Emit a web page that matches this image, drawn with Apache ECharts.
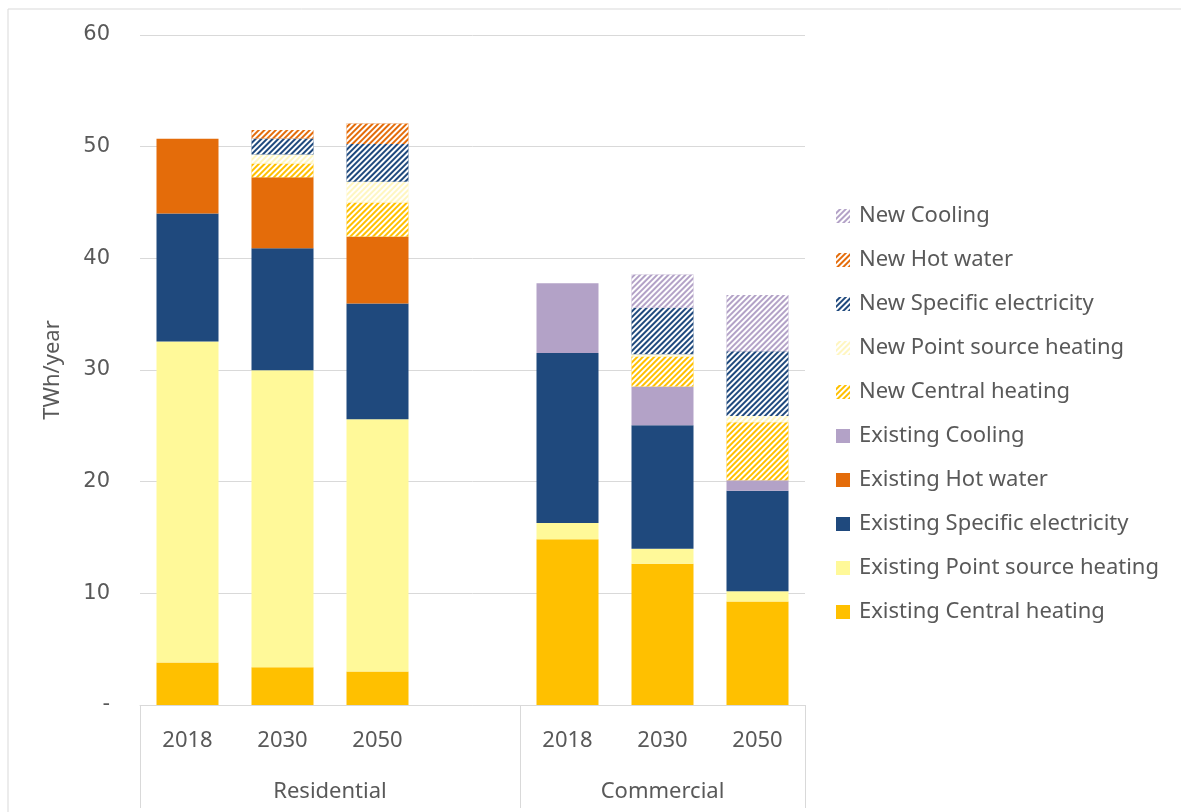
<!DOCTYPE html>
<html>
<head>
<meta charset="utf-8">
<script src="https://cdn.jsdelivr.net/npm/echarts@6/dist/echarts.min.js"></script>
<style>
  html, body { margin: 0; padding: 0; background: #fff; }
  #chart { width: 1181px; height: 812px; }
</style>
</head>
<body>
<div id="chart"></div>
<script>
// ========= data =========
const yearLabels = ['2018', '2030', '2050', '', '2018', '2030', '2050'];
const groupLabels = ['Residential', 'Commercial'];

const existingCentral = [3.81, 3.39, 3.0, '-', 14.85, 12.65, 9.26];
const existingPoint   = [28.75, 26.58, 22.6, '-', 1.45, 1.35, 0.92];
const existingSpecific = [11.45, 10.93, 10.36, '-', 15.22, 11.06, 9.0];
const existingHotWater = [6.7, 6.36, 6.0, '-', 0, 0, 0];
const existingCooling = [0, 0, 0, '-', 6.25, 3.47, 0.95];
const newCentral  = [0, 1.24, 3.04, '-', 0, 2.67, 5.2];
const newPoint    = [0, 0.8, 1.85, '-', 0, 0.2, 0.54];
const newSpecific = [0, 1.44, 3.39, '-', 0, 4.17, 5.8];
const newHotWater = [0, 0.76, 1.84, '-', 0, 0, 0];
const newCooling  = [0, 0, 0, '-', 0, 2.98, 5.05];

// stacking order, bottom to top
const seriesDefs = [
  { name: 'Existing Central heating', data: existingCentral, color: '#FFC000' },
  { name: 'Existing Point source heating', data: existingPoint, color: '#FFF999' },
  { name: 'Existing Specific electricity', data: existingSpecific, color: '#1F497D' },
  { name: 'Existing Hot water', data: existingHotWater, color: '#E46C0A' },
  { name: 'Existing Cooling', data: existingCooling, color: '#B3A2C7' },
  { name: 'New Central heating', data: newCentral, color: '#FFC000', hatch: true },
  { name: 'New Point source heating', data: newPoint, color: '#FFF6C0', hatch: true },
  { name: 'New Specific electricity', data: newSpecific, color: '#1F497D', hatch: true },
  { name: 'New Hot water', data: newHotWater, color: '#E46C0A', hatch: true },
  { name: 'New Cooling', data: newCooling, color: '#B3A2C7', hatch: true }
];

// group axis: 15 points across the plot, labels centred on each group
const groupAxisData = Array.from({ length: 15 }, () => '');
groupAxisData[4] = groupLabels[0];
groupAxisData[11] = groupLabels[1];

const textColor = '#595959';
const lineColor = '#D9D9D9';

const hatchDecal = {
  symbol: 'rect',
  symbolSize: 1,
  color: '#ffffff',
  dashArrayX: [1, 0],
  dashArrayY: [2, 2],
  rotation: -Math.PI / 4
};

const chart = echarts.init(document.getElementById('chart'));

chart.setOption({
  animation: false,
  backgroundColor: '#fff',
  graphic: [{
    type: 'rect',
    shape: { x: 8, y: 9, width: 1200, height: 820 },
    style: { fill: 'none', stroke: lineColor, lineWidth: 1 },
    silent: true
  }],
  grid: { left: 140, right: 376, top: 35, bottom: 107 },
  legend: {
    orient: 'vertical',
    left: 831,
    top: 200,
    icon: 'rect',
    itemWidth: 14,
    itemHeight: 14,
    itemGap: 22,
    data: seriesDefs.map(s => s.name).reverse(),
    textStyle: { color: textColor, fontSize: 22, fontFamily: 'Noto Sans', lineHeight: 22, padding: [0, 0, 0, 4] }
  },
  xAxis: [{
    type: 'category',
    data: yearLabels,
    axisLine: { lineStyle: { color: lineColor } },
    axisTick: { show: false },
    axisLabel: { color: textColor, fontSize: 22, fontFamily: 'Noto Sans', margin: 25, interval: 0 }
  }, {
    type: 'category',
    data: groupAxisData,
    boundaryGap: false,
    position: 'bottom',
    axisLine: { show: false },
    axisTick: {
      show: true,
      length: 103,
      interval: (i) => i === 0 || i === 8 || i === 14,
      lineStyle: { color: lineColor }
    },
    axisLabel: { color: textColor, fontSize: 22, fontFamily: 'Noto Sans', margin: 76, interval: 0 }
  }],
  yAxis: {
    type: 'value',
    min: 0,
    max: 60,
    interval: 10,
    name: 'TWh/year',
    nameLocation: 'middle',
    nameGap: 76,
    nameTextStyle: { color: textColor, fontSize: 22, fontFamily: 'Noto Sans' },
    axisLine: { show: false },
    axisTick: { show: false },
    splitLine: { lineStyle: { color: lineColor } },
    axisLabel: {
      color: textColor, fontSize: 21, fontFamily: 'DejaVu Sans', margin: 30,
      formatter: v => (v === 0 ? '-' : v)
    }
  },
  series: seriesDefs.map(s => {
    const itemStyle = { color: s.color };
    if (s.hatch) itemStyle.decal = hatchDecal;
    return {
      name: s.name,
      type: 'bar',
      stack: 'total',
      barWidth: 62,
      data: s.data,
      itemStyle: itemStyle,
      emphasis: { disabled: true }
    };
  })
});
</script>
</body>
</html>
